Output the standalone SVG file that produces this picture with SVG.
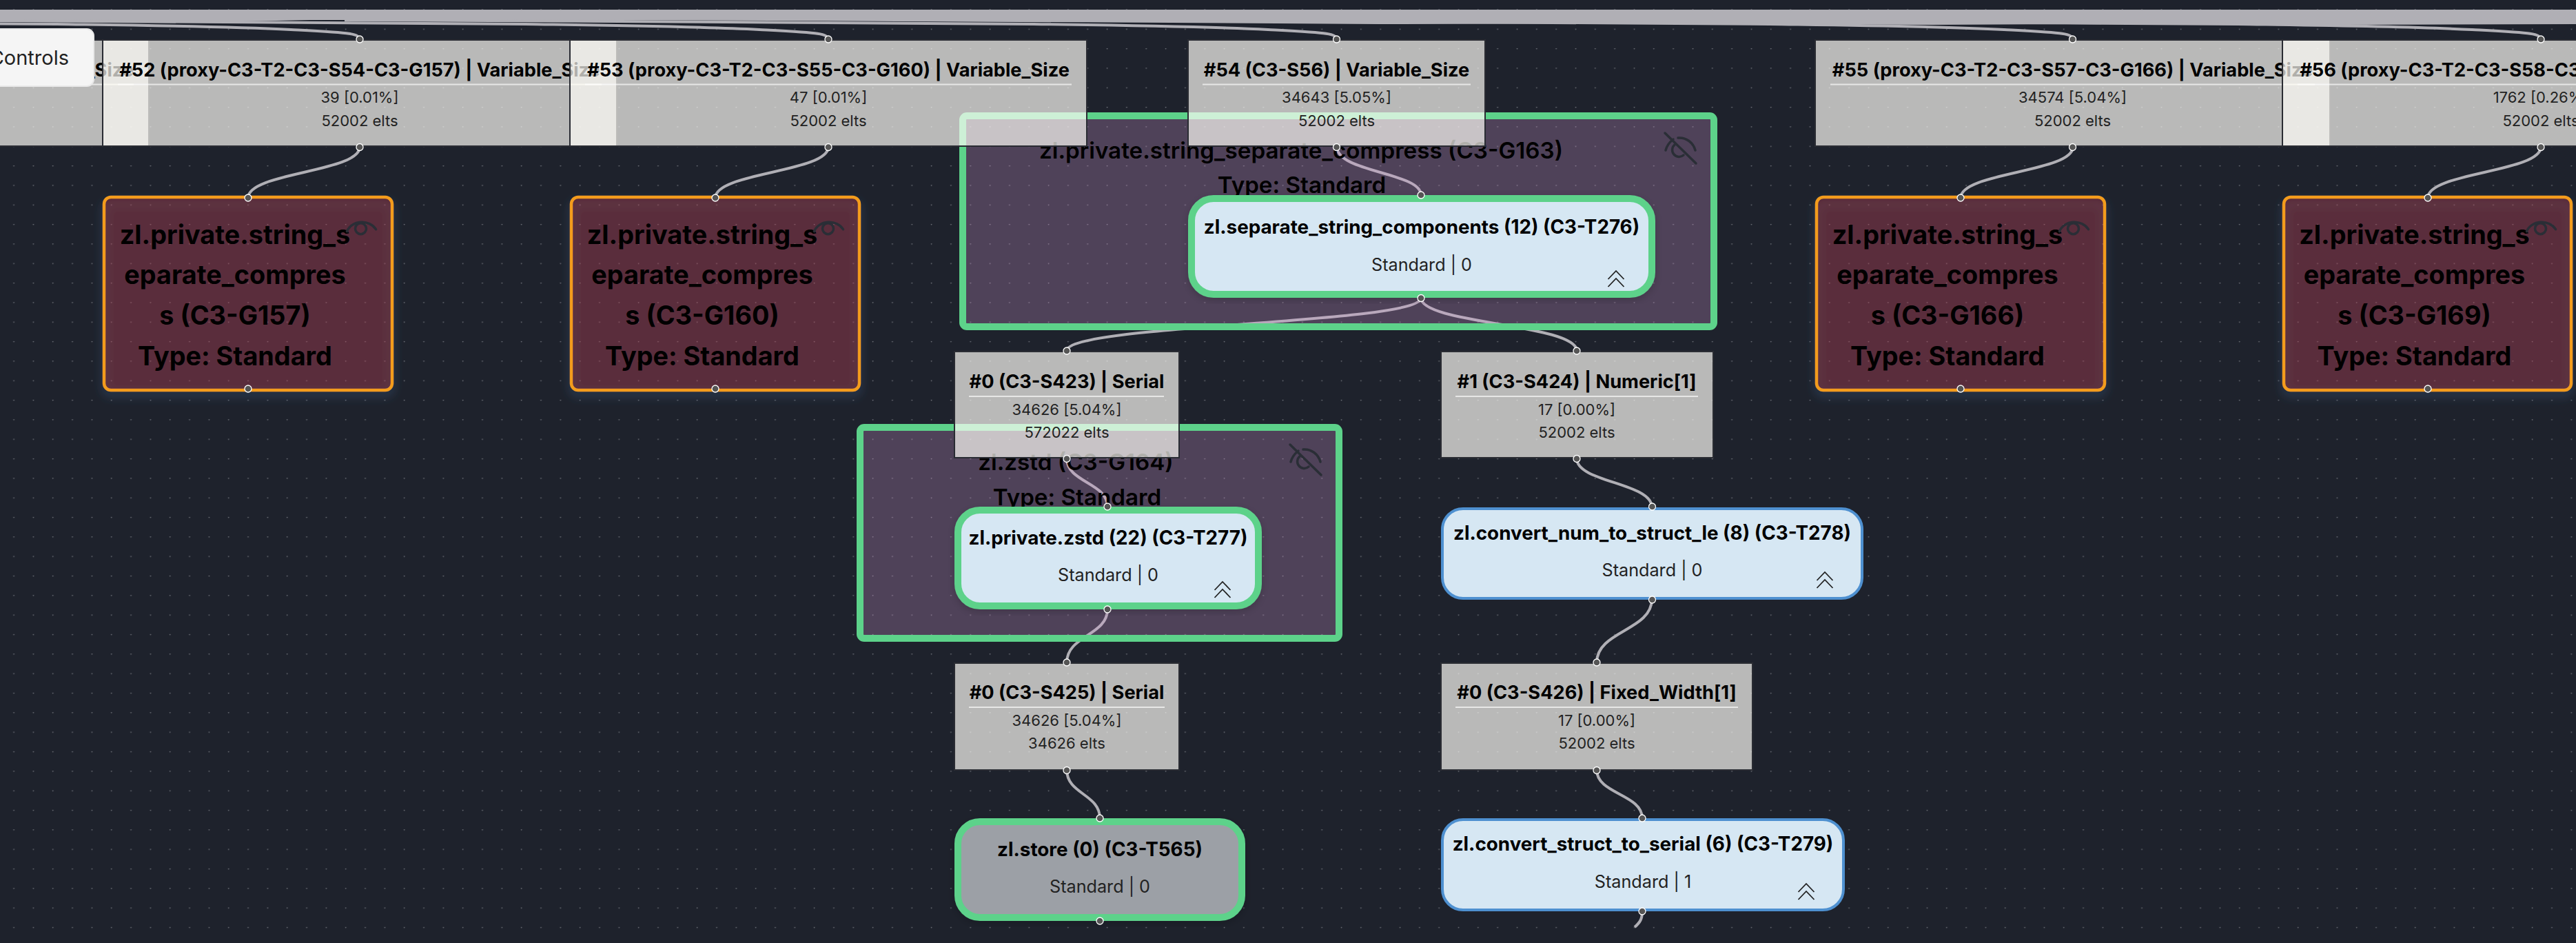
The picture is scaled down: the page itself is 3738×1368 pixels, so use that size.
<svg xmlns="http://www.w3.org/2000/svg" width="3738" height="1368" viewBox="0 0 3738 1368">
<style>
text{font-family:Inter,"Noto Sans",sans-serif;text-anchor:middle;fill:#000}
.e{fill:none;stroke:#b0afb5;stroke-width:4}
.p{fill:#555;stroke:#fff;stroke-width:1.3}
.d{fill:#fffdf8;fill-opacity:.69;stroke:#2a2c33;stroke-width:2}
.s{stroke:#fff;stroke-opacity:.65;stroke-width:2}
.dt{font-size:27.2px;font-weight:700}
.ds{font-size:22px;font-weight:400;fill:#222}
.g{fill:#cb2c1e;fill-opacity:.3;stroke:#f39c1c;stroke-width:4.5;filter:url(#glow)}
.gt{font-size:37.8px;font-weight:700}
.c{fill:#d098d0;fill-opacity:.28;stroke:#5dd28a;stroke-width:10}
.ct{font-size:33.2px;font-weight:600}
.t{fill:#d6e7f3;stroke:#4e90d0;stroke-width:4}
.ta{fill:#d6e7f3;stroke:#5dd28a;stroke-width:10}
.tt{font-size:27.8px;font-weight:700}
.ts{font-size:25.2px;font-weight:400;fill:#222}
.i{fill:none;stroke:#2a2e36;stroke-width:3.5;stroke-linecap:round}
.ch{fill:none;stroke:#222;stroke-width:1.8}
</style>
<defs>
<pattern id="dots" x="19.5" y="13.3" width="28.33" height="28.33" patternUnits="userSpaceOnUse"><circle cx="0.6" cy="0.6" r="0.9" fill="#70737a"/><circle cx="28.93" cy="0.6" r="0.9" fill="#70737a"/></pattern>
<filter id="glow" x="-10%" y="-10%" width="120%" height="120%"><feDropShadow dx="0" dy="7" stdDeviation="7" flood-color="#3f6a9c" flood-opacity=".45"/></filter>
<filter id="sh" x="-10%" y="-10%" width="120%" height="120%"><feDropShadow dx="0" dy="4" stdDeviation="6" flood-color="#000" flood-opacity=".18"/></filter>
</defs>
<rect width="3738" height="1368" fill="#1e222c"/>
<rect width="3738" height="1368" fill="url(#dots)"/>

<g id="connectors">
<polygon fill="#b0afb5" points="0,14 3738,14 3738,35 3400,36 3000,35 2800,36 2400,34 2000,35 1700,33 1300,31 900,29 450,29 250,33 0,32"/>
<path class="e" d="M522 57C519 48 512 48 422 43C322 38 222 37 82 35S-280 32 -518 31"/>
<path class="e" d="M1202 57C1199 48 1192 48 1102 43C1002 38 902 37 762 35S400 32 162 31L-100 29"/>
<path class="e" d="M1940 57C1937 48 1930 48 1840 43C1740 38 1640 37 1500 35S1138 32 900 31L500 29"/>
<path class="e" d="M3008 57C3005 48 2998 48 2908 43C2808 38 2708 37 2568 35S2206 32 1968 31"/>
<path class="e" d="M3687 57C3684 48 3677 48 3587 43C3487 38 3387 37 3247 35S2885 32 2647 31"/>
<path class="e" d="M522 213C522 250 360 250 360 287"/>
<path class="e" d="M1202 213C1202 250 1038 250 1038 287"/>
<path class="e" d="M3008 213C3008 250 2845 250 2845 287"/>
<path class="e" d="M3687 213C3687 250 3523 250 3523 287"/>
<path class="e" d="M1940 213C1940 250 2062 250 2062 283"/>
<path class="e" d="M2062 432C2062 470 1548 470 1548 509"/>
<path class="e" d="M2062 432C2062 470 2288 470 2288 509"/>
<path class="e" d="M1548 665C1548 700 1607 700 1607 735"/>
<path class="e" d="M2288 665C2288 700 2397 700 2397 736"/>
<path class="e" d="M1607 884C1607 922 1548 922 1548 961"/>
<path class="e" d="M2397 869C2397 915 2317 915 2317 961"/>
<path class="e" d="M1548 1117C1548 1152 1596 1152 1596 1187"/>
<path class="e" d="M2317 1117C2317 1152 2383 1152 2383 1187"/>
<path class="e" d="M2383 1322C2383 1333 2380 1338 2372 1345"/>
</g>

<g id="C3-G157"><rect class="g" x="151" y="286" width="418" height="280" rx="10"/>
<text class="gt" x="341" y="353.500">zl.private.string_s</text><text class="gt" x="341" y="411.500">eparate_compres</text><text class="gt" x="341" y="470.500">s (C3-G157)</text><text class="gt" x="341" y="529.500">Type: Standard</text>
<g transform="translate(523.5 331.7)"><circle class="i" r="8"/><path class="i" d="M-20 4A23 20 0 0 1 22 1"/></g>
<circle class="p" cx="360" cy="287" r="5"/><circle class="p" cx="360" cy="564" r="5"/></g>
<g id="C3-G160"><rect class="g" x="829" y="286" width="418" height="280" rx="10"/>
<text class="gt" x="1019" y="353.500">zl.private.string_s</text><text class="gt" x="1019" y="411.500">eparate_compres</text><text class="gt" x="1019" y="470.500">s (C3-G160)</text><text class="gt" x="1019" y="529.500">Type: Standard</text>
<g transform="translate(1201.5 331.7)"><circle class="i" r="8"/><path class="i" d="M-20 4A23 20 0 0 1 22 1"/></g>
<circle class="p" cx="1038" cy="287" r="5"/><circle class="p" cx="1038" cy="564" r="5"/></g>
<g id="C3-G166"><rect class="g" x="2636" y="286" width="418" height="280" rx="10"/>
<text class="gt" x="2826" y="353.500">zl.private.string_s</text><text class="gt" x="2826" y="411.500">eparate_compres</text><text class="gt" x="2826" y="470.500">s (C3-G166)</text><text class="gt" x="2826" y="529.500">Type: Standard</text>
<g transform="translate(3008.5 331.7)"><circle class="i" r="8"/><path class="i" d="M-20 4A23 20 0 0 1 22 1"/></g>
<circle class="p" cx="2845" cy="287" r="5"/><circle class="p" cx="2845" cy="564" r="5"/></g>
<g id="C3-G169"><rect class="g" x="3314" y="286" width="417" height="280" rx="10"/>
<text class="gt" x="3503.5" y="353.500">zl.private.string_s</text><text class="gt" x="3503.5" y="411.500">eparate_compres</text><text class="gt" x="3503.5" y="470.500">s (C3-G169)</text><text class="gt" x="3503.5" y="529.500">Type: Standard</text>
<g transform="translate(3686.5 331.7)"><circle class="i" r="8"/><path class="i" d="M-20 4A23 20 0 0 1 22 1"/></g>
<circle class="p" cx="3523" cy="287" r="5"/><circle class="p" cx="3523" cy="564" r="5"/></g>

<g id="C3-G163"><rect class="c" x="1397" y="168" width="1090" height="306" rx="6"/>
<text class="ct" x="1888" y="230">zl.private.string_separate_compress (C3-G163)</text><text class="ct" x="1889" y="280">Type: Standard</text>
<g transform="translate(2438 217)"><path class="i" d="M-21 1C-19 -7 -15 -11 -10 -15M-3 -17C9 -18 19 -10 22 1M-8 -7A9 9 0 0 0 5 8"/><path class="i" d="M-22 -24L23 20"/></g></g>
<g id="C3-G164"><rect class="c" x="1248" y="620" width="695" height="306" rx="6"/>
<text class="ct" x="1561" y="682">zl.zstd (C3-G164)</text><text class="ct" x="1563" y="733">Type: Standard</text>
<g transform="translate(1894 669)"><path class="i" d="M-21 1C-19 -7 -15 -11 -10 -15M-3 -17C9 -18 19 -10 22 1M-8 -7A9 9 0 0 0 5 8"/><path class="i" d="M-22 -24L23 20"/></g></g>

<g id="C3-T276"><rect class="ta" x="1729" y="288" width="668" height="139" rx="32" filter="url(#sh)"/>
<text class="tt" x="2063" y="339">zl.separate_string_components (12) (C3-T276)</text><text class="ts" x="2063" y="393">Standard | 0</text>
<path class="ch" d="M2333.500 405L2345 393L2356.500 405M2333.500 416L2345 404L2356.500 416"/>
<circle class="p" cx="2062" cy="283" r="5"/><circle class="p" cx="2062" cy="432.500" r="5"/></g>
<g id="C3-T277"><rect class="ta" x="1390" y="740" width="436" height="139" rx="32" filter="url(#sh)"/>
<text class="tt" x="1608" y="790">zl.private.zstd (22) (C3-T277)</text><text class="ts" x="1608" y="843">Standard | 0</text>
<path class="ch" d="M1762.500 856L1774 844L1785.500 856M1762.500 867L1774 855L1785.500 867"/>
<circle class="p" cx="1607" cy="735" r="5"/><circle class="p" cx="1607" cy="884" r="5"/></g>
<g id="C3-T278"><rect class="t" x="2093" y="738" width="609" height="130" rx="30"/>
<text class="tt" x="2397.500" y="783">zl.convert_num_to_struct_le (8) (C3-T278)</text><text class="ts" x="2397.500" y="836">Standard | 0</text>
<path class="ch" d="M2636.500 842L2648 830L2659.500 842M2636.500 853L2648 841L2659.500 853"/>
<circle class="p" cx="2397.500" cy="735" r="5"/><circle class="p" cx="2397.500" cy="870" r="5"/></g>
<g id="C3-T565"><rect class="ta" x="1390" y="1192" width="412" height="139" rx="32" style="fill:#9ca0a6" filter="url(#sh)"/>
<text class="tt" x="1596" y="1242">zl.store (0) (C3-T565)</text><text class="ts" x="1596" y="1295">Standard | 0</text>
<circle class="p" cx="1596" cy="1187" r="5"/><circle class="p" cx="1596" cy="1336" r="5"/></g>
<g id="C3-T279"><rect class="t" x="2093" y="1189" width="582" height="131" rx="30"/>
<text class="tt" x="2384" y="1234">zl.convert_struct_to_serial (6) (C3-T279)</text><text class="ts" x="2384" y="1288">Standard | 1</text>
<path class="ch" d="M2609.500 1294L2621 1282L2632.500 1294M2609.500 1305L2621 1293L2632.500 1305"/>
<circle class="p" cx="2383" cy="1187" r="5"/><circle class="p" cx="2383" cy="1322" r="5"/></g>

<g id="S51"><rect class="d" x="-530" y="58" width="746" height="154"/><line class="s" x1="-508" y1="122.500" x2="194" y2="122.500"/><text class="dt" x="194" y="111" style="text-anchor:end">Variable_Size</text></g>
<g id="S52"><rect class="d" x="149" y="58" width="746" height="154"/><line class="s" x1="171" y1="122.500" x2="873" y2="122.500"/>
<text class="dt" x="522" y="111">#52 (proxy-C3-T2-C3-S54-C3-G157) | Variable_Size</text><text class="ds" x="522" y="149">39 [0.01%]</text><text class="ds" x="522" y="183">52002 elts</text>
<circle class="p" cx="522" cy="57" r="5"/><circle class="p" cx="522" cy="213.500" r="5"/></g>
<g id="S53"><rect class="d" x="827" y="58" width="750" height="154"/><line class="s" x1="849" y1="122.500" x2="1555" y2="122.500"/>
<text class="dt" x="1202" y="111">#53 (proxy-C3-T2-C3-S55-C3-G160) | Variable_Size</text><text class="ds" x="1202" y="149">47 [0.01%]</text><text class="ds" x="1202" y="183">52002 elts</text>
<circle class="p" cx="1202" cy="57" r="5"/><circle class="p" cx="1202" cy="213.500" r="5"/></g>
<g id="S54"><rect class="d" x="1724" y="58" width="431" height="154"/><line class="s" x1="1745" y1="122.500" x2="2134" y2="122.500"/>
<text class="dt" x="1939.500" y="111">#54 (C3-S56) | Variable_Size</text><text class="ds" x="1939.500" y="149">34643 [5.05%]</text><text class="ds" x="1939.500" y="183">52002 elts</text>
<circle class="p" cx="1939.500" cy="57" r="5"/><circle class="p" cx="1939.500" cy="213.500" r="5"/></g>
<g id="S55"><rect class="d" x="2634" y="58" width="747" height="154"/><line class="s" x1="2656" y1="122.500" x2="3359" y2="122.500"/>
<text class="dt" x="3007.500" y="111">#55 (proxy-C3-T2-C3-S57-C3-G166) | Variable_Size</text><text class="ds" x="3007.500" y="149">34574 [5.04%]</text><text class="ds" x="3007.500" y="183">52002 elts</text>
<circle class="p" cx="3007.500" cy="57" r="5"/><circle class="p" cx="3007.500" cy="213.500" r="5"/></g>
<g id="S56"><rect class="d" x="3312" y="58" width="750" height="154"/><line class="s" x1="3334" y1="122.500" x2="4040" y2="122.500"/>
<text class="dt" x="3687" y="111">#56 (proxy-C3-T2-C3-S58-C3-G169) | Variable_Size</text><text class="ds" x="3687" y="149">1762 [0.26%]</text><text class="ds" x="3687" y="183">52002 elts</text>
<circle class="p" cx="3687" cy="57" r="5"/><circle class="p" cx="3687" cy="213.500" r="5"/></g>
<g id="C3-S423"><rect class="d" x="1385" y="510" width="326" height="154"/><line class="s" x1="1406" y1="575" x2="1689" y2="575"/>
<text class="dt" x="1548" y="563">#0 (C3-S423) | Serial</text><text class="ds" x="1548" y="602">34626 [5.04%]</text><text class="ds" x="1548" y="635">572022 elts</text>
<circle class="p" cx="1548" cy="509" r="5"/><circle class="p" cx="1548" cy="665.500" r="5"/></g>
<g id="C3-S424"><rect class="d" x="2091" y="510" width="395" height="154"/><line class="s" x1="2112" y1="575" x2="2464" y2="575"/>
<text class="dt" x="2288" y="563">#1 (C3-S424) | Numeric[1]</text><text class="ds" x="2288" y="602">17 [0.00%]</text><text class="ds" x="2288" y="635">52002 elts</text>
<circle class="p" cx="2288" cy="509" r="5"/><circle class="p" cx="2288" cy="665.500" r="5"/></g>
<g id="C3-S425"><rect class="d" x="1385" y="962" width="326" height="155"/><line class="s" x1="1406" y1="1026" x2="1690" y2="1026"/>
<text class="dt" x="1548" y="1014">#0 (C3-S425) | Serial</text><text class="ds" x="1548" y="1053">34626 [5.04%]</text><text class="ds" x="1548" y="1086">34626 elts</text>
<circle class="p" cx="1548" cy="961" r="5"/><circle class="p" cx="1548" cy="1117.500" r="5"/></g>
<g id="C3-S426"><rect class="d" x="2091" y="962" width="452" height="155"/><line class="s" x1="2112" y1="1026" x2="2522" y2="1026"/>
<text class="dt" x="2317" y="1014">#0 (C3-S426) | Fixed_Width[1]</text><text class="ds" x="2317" y="1053">17 [0.00%]</text><text class="ds" x="2317" y="1086">52002 elts</text>
<circle class="p" cx="2317" cy="961" r="5"/><circle class="p" cx="2317" cy="1117.500" r="5"/></g>

<g id="controls"><rect x="-40" y="42" width="176" height="83" rx="10" fill="#f5f5f5" stroke="#e9e9e9" stroke-width="2"/><text x="100" y="94" style="text-anchor:end;font-size:29px;fill:#222">Controls</text></g>
</svg>
